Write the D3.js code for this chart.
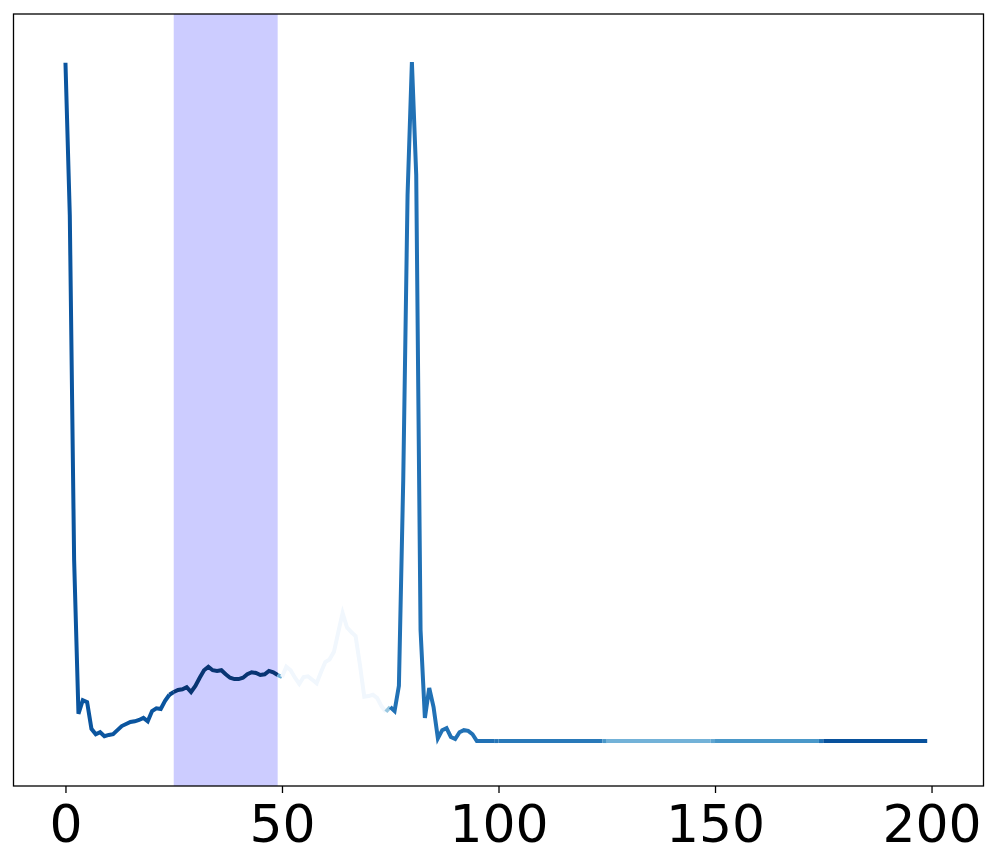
<html lang="en">

<head>
    <meta charset="UTF-8">
    <title>Segmented line with highlighted span</title>
    <style>
        body {
            margin: 0;
            background: #fff;
            font-family: "DejaVu Sans", sans-serif;
        }

        .x-axis text {
            font-size: 52px;
            fill: #000;
        }
    </style>
</head>

<body>
    <div id="chart"></div>
    <script src="https://d3js.org/d3.v7.min.js"></script>
    <script>
        // series values, one per step 0..199
        const yValues = [
            99.6, 77.2, 26.6, 4.0, 6.0, 5.7, 1.8, 1.0, 1.3, 0.7,
            0.9, 1.0, 1.6, 2.2, 2.5, 2.8, 2.9, 3.1, 3.4, 2.9,
            4.4, 4.8, 4.7, 5.9, 6.8, 7.2, 7.5, 7.6, 7.9, 7.2,
            8.1, 9.3, 10.4, 10.9, 10.4, 10.3, 10.4, 9.8, 9.3, 9.1,
            9.1, 9.3, 9.8, 10.1, 10.0, 9.7, 9.8, 10.3, 10.1, 9.7,
            9.4, 10.9, 10.4, 9.3, 8.4, 9.4, 9.5, 9.0, 8.5, 10.1,
            11.6, 12.0, 13.1, 16.0, 18.8, 16.7, 16.0, 15.4, 11.2, 6.5,
            6.6, 6.8, 6.3, 5.1, 4.3, 5.0, 4.4, 8.1, 38.3, 80.2,
            99.7, 83.1, 16.3, 3.4, 7.8, 5.0, 0.4, 1.6, 1.9, 0.6,
            0.3, 1.3, 1.6, 1.5, 1.0, 0, 0, 0, 0, 0,
            0, 0, 0, 0, 0, 0, 0, 0, 0, 0,
            0, 0, 0, 0, 0, 0, 0, 0, 0, 0,
            0, 0, 0, 0, 0, 0, 0, 0, 0, 0,
            0, 0, 0, 0, 0, 0, 0, 0, 0, 0,
            0, 0, 0, 0, 0, 0, 0, 0, 0, 0,
            0, 0, 0, 0, 0, 0, 0, 0, 0, 0,
            0, 0, 0, 0, 0, 0, 0, 0, 0, 0,
            0, 0, 0, 0, 0, 0, 0, 0, 0, 0,
            0, 0, 0, 0, 0, 0, 0, 0, 0, 0,
            0, 0, 0, 0, 0, 0, 0, 0, 0, 0
        ];
        const steps = d3.range(yValues.length);

        // colour level (0..1 on the Blues map) for each block of 25 steps
        const blockSize = 25;
        const colorLevels = [0.86, 0.98, 0.03, 0.75, 0.72, 0.48, 0.6, 0.875];

        // highlighted span
        const spanRange = [25, 49];

        const xTicks = [0, 50, 100, 150, 200];

        const W = 997, H = 865;
        const box = { left: 13.5, right: 983.5, top: 14, bottom: 786 };

        const blues = d3.scaleLinear()
            .domain(d3.range(9).map(k => k / 8))
            .range(['#f7fbff', '#deebf7', '#c6dbef', '#9ecae1', '#6baed6',
                '#4292c6', '#2171b5', '#08519c', '#08306b'])
            .interpolate(d3.interpolateRgb);

        const svg = d3.select('#chart')
            .append('svg')
            .attr('width', W)
            .attr('height', H)
            .style('background', '#fff');

        const x = d3.scaleLinear().domain([-12, 212]).range([box.left, box.right]);
        const y = d3.scaleLinear().domain([-6.6, 106.75]).range([box.bottom, box.top]);

        // shaded span
        svg.append('rect')
            .attr('x', x(spanRange[0]))
            .attr('y', box.top)
            .attr('width', x(spanRange[1]) - x(spanRange[0]))
            .attr('height', box.bottom - box.top)
            .attr('fill', '#ccccff');

        // per-segment colour = mean of its two end levels; group equal colours into one path
        const level = i => colorLevels[Math.floor(i / blockSize)];
        const runs = [];
        for (let i = 0; i < steps.length - 1; i++) {
            const c = blues((level(i) + level(i + 1)) / 2);
            const last = runs[runs.length - 1];
            if (last && last.color === c) {
                last.pts.push(i + 1);
            } else {
                runs.push({ color: c, pts: [i, i + 1] });
            }
        }

        const line = d3.line()
            .x(i => x(steps[i]))
            .y(i => y(yValues[i]));

        svg.append('g')
            .selectAll('path')
            .data(runs)
            .join('path')
            .attr('d', d => line(d.pts))
            .attr('fill', 'none')
            .attr('stroke', d => d.color)
            .attr('stroke-width', 4)
            .attr('stroke-linejoin', 'miter');

        // frame
        svg.append('rect')
            .attr('x', box.left)
            .attr('y', box.top)
            .attr('width', box.right - box.left)
            .attr('height', box.bottom - box.top)
            .attr('fill', 'none')
            .attr('stroke', '#000')
            .attr('stroke-width', 1.3);

        const xAxis = d3.axisBottom(x)
            .tickValues(xTicks)
            .tickSize(7)
            .tickPadding(12)
            .tickFormat(d3.format('d'));

        const gx = svg.append('g')
            .attr('class', 'x-axis')
            .attr('transform', `translate(0, ${box.bottom})`)
            .call(xAxis);
        gx.select('.domain').remove();
        gx.selectAll('.tick line').attr('stroke', '#000').attr('stroke-width', 1.3);
        gx.selectAll('.tick text').attr('font-family', '"DejaVu Sans", sans-serif');
    </script>
</body>

</html>
